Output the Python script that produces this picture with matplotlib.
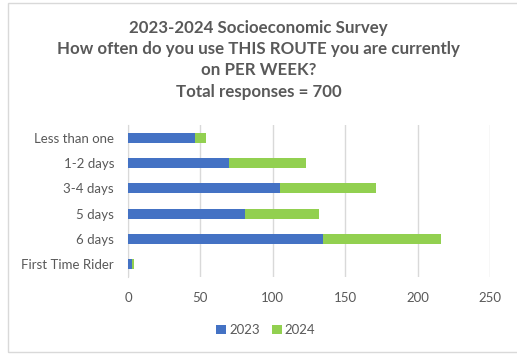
import matplotlib.pyplot as plt
from matplotlib.patches import Rectangle

# Survey answers (top to bottom as shown)
categories = ["Less than one", "1-2 days", "3-4 days", "5 days", "6 days", "First Time Rider"]
y2023 = [46, 70, 105, 81, 135, 3]
y2024 = [8, 53, 66, 51, 81, 1]
xticks = [0, 50, 100, 150, 200, 250]

blue = "#4472c4"
green = "#92d050"
txt = "#595959"

plt.rcParams['font.family'] = ['Lato', 'DejaVu Sans']

fig = plt.figure(figsize=(5.17, 3.55), dpi=100)
ax = fig.add_axes([128 / 517, 1 - 277 / 355, (490 - 128) / 517, (277 - 125) / 355])

pos = list(range(len(categories)))[::-1]
ax.barh(pos, y2023, height=0.4, color=blue, label="2023", zorder=3)
ax.barh(pos, y2024, left=y2023, height=0.4, color=green, label="2024", zorder=3)

ax.set_xlim(0, 250)
ax.set_ylim(-0.5, 5.5)
ax.set_xticks(xticks)
ax.set_yticks(pos)
ax.set_yticklabels(categories)
ax.tick_params(axis='both', length=0, labelsize=9.5, colors=txt)
ax.tick_params(axis='x', pad=11)
ax.tick_params(axis='y', pad=10)
ax.grid(axis='x', color="#d9d9d9", linewidth=1, zorder=0)
for s in ["top", "right", "bottom"]:
    ax.spines[s].set_visible(False)
ax.spines["left"].set_color("#d9d9d9")

fig.text(0.5, 1 - 20 / 355, "2023-2024 Socioeconomic Survey\nHow often do you use THIS ROUTE you are currently\non PER WEEK?\nTotal responses = 700",
         ha='center', va='top', fontsize=12.2, fontweight='bold', color=txt, linespacing=1.4)

fig.legend(loc='center', bbox_to_anchor=(0.514, 1 - 330 / 355), ncol=2, frameon=False,
           fontsize=9.5, labelcolor=txt, handlelength=0.75, handleheight=0.75,
           handletextpad=0.25, columnspacing=0.9)

# chart border
fig.patches.append(Rectangle((8 / 517, 3 / 355), 1.0, 1 - 6 / 355, transform=fig.transFigure,
                             fill=False, edgecolor="#d9d9d9", linewidth=1))

fig.savefig("out.png", dpi=100)
